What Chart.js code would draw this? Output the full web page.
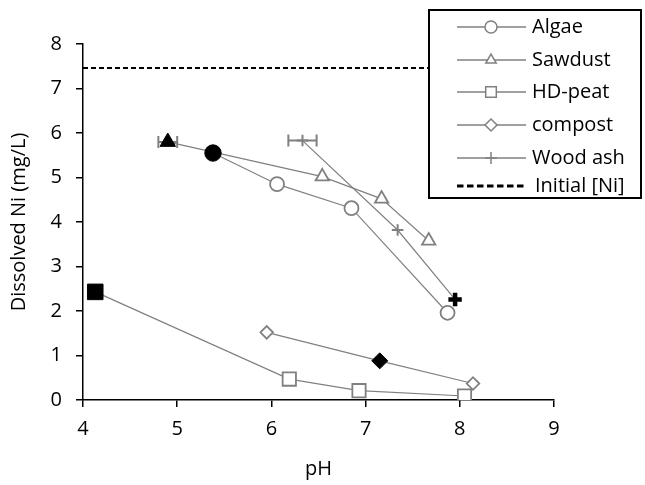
<html>
    <head>
        <title>Dissolved Ni vs pH</title>
        <style>
            body { margin: 0; background: #fff; }
            #wrap { position: relative; width: 645px; height: 485px; }
        </style>
    </head>
    <body>
        <div id="wrap"><canvas id="chart" width="645" height="485"></canvas></div>
        <script src="https://cdn.jsdelivr.net/npm/chart.js"></script>
        <script>
            // values
            var algaeX = [5.38, 6.06, 6.85, 7.87];
            var algaeY = [5.55, 4.85, 4.31, 1.96];
            var sawdustX = [4.90, 6.54, 7.17, 7.67];
            var sawdustY = [5.80, 5.02, 4.52, 3.58];
            var sawdustXErr = [0.10, 0, 0, 0];
            var peatX = [4.13, 6.19, 6.93, 8.05];
            var peatY = [2.43, 0.47, 0.21, 0.09];
            var compostX = [5.95, 7.15, 8.14];
            var compostY = [1.52, 0.88, 0.37];
            var ashX = [6.33, 7.34, 7.95];
            var ashY = [5.83, 3.82, 2.26];
            var ashXErr = [0.15, 0, 0];
            var initialNi = 7.46;
            var xRange = [4, 9];
            var yRange = [0, 8];
            // which point of each series is drawn solid black
            var filledAlgae = 0, filledSawdust = 0, filledPeat = 0, filledCompost = 1, filledAsh = 2;

            var GREY = '#808080';
            var FONT = '"Open Sans", sans-serif';

            function pts(xs, ys) {
                return xs.map(function (x, i) { return { x: x, y: ys[i] }; });
            }

            function series(label, xs, ys, filled, style, r, rFilled, bw, bwFilled, xErr) {
                return {
                    label: label,
                    data: pts(xs, ys),
                    xErr: xErr || null,
                    showLine: true,
                    borderColor: GREY,
                    borderWidth: 1.2,
                    pointStyle: style,
                    pointRadius: xs.map(function (v, i) { return i === filled ? rFilled : r; }),
                    pointHoverRadius: xs.map(function (v, i) { return i === filled ? rFilled : r; }),
                    pointBorderWidth: xs.map(function (v, i) { return i === filled ? bwFilled : bw; }),
                    pointBackgroundColor: xs.map(function (v, i) { return i === filled ? '#000' : (style === 'cross' ? GREY : '#fff'); }),
                    pointBorderColor: xs.map(function (v, i) { return i === filled ? '#000' : GREY; })
                };
            }

            var datasets = [
                series('Algae', algaeX, algaeY, filledAlgae, 'circle', 7, 8.2, 1.8, 1, null),
                series('Sawdust', sawdustX, sawdustY, filledSawdust, 'triangle', 7.7, 8.9, 1.8, 1, sawdustXErr),
                series('HD-peat', peatX, peatY, filledPeat, 'rect', 9.4, 11, 1.8, 1, null),
                series('compost', compostX, compostY, filledCompost, 'rectRot', 6.3, 8, 1.8, 1, null),
                series('Wood ash', ashX, ashY, filledAsh, 'cross', 5.8, 6.7, 2, 4.5, ashXErr),
                {
                    label: 'Initial [Ni]',
                    data: [{ x: xRange[0], y: initialNi }, { x: xRange[1], y: initialNi }],
                    showLine: true,
                    borderColor: '#000',
                    borderWidth: 2,
                    borderDash: [5, 3],
                    pointRadius: 0
                }
            ];
            // draw order: dashed line underneath
            datasets[5].order = 10;

            var errorBars = {
                id: 'errorBars',
                beforeDatasetsDraw: function (chart) {
                    var ctx = chart.ctx, xs = chart.scales.x, ys = chart.scales.y;
                    ctx.save();
                    ctx.strokeStyle = GREY;
                    ctx.lineWidth = 2;
                    chart.data.datasets.forEach(function (ds) {
                        if (!ds.xErr) return;
                        ds.data.forEach(function (p, i) {
                            var e = ds.xErr[i];
                            if (!e) return;
                            var x0 = xs.getPixelForValue(p.x - e), x1 = xs.getPixelForValue(p.x + e);
                            var y = ys.getPixelForValue(p.y);
                            ctx.beginPath();
                            ctx.moveTo(x0, y); ctx.lineTo(x1, y);
                            ctx.moveTo(x0, y - 6); ctx.lineTo(x0, y + 6);
                            ctx.moveTo(x1, y - 6); ctx.lineTo(x1, y + 6);
                            ctx.stroke();
                        });
                    });
                    ctx.restore();
                }
            };

            var boxLegend = {
                id: 'boxLegend',
                afterDraw: function (chart) {
                    var ctx = chart.ctx;
                    var rows = [27, 60, 92, 125, 158, 186];
                    ctx.save();
                    ctx.fillStyle = '#fff';
                    ctx.fillRect(429, 10, 212, 188);
                    ctx.strokeStyle = '#000';
                    ctx.lineWidth = 2;
                    ctx.strokeRect(429, 10, 212, 188);
                    chart.data.datasets.forEach(function (ds, i) {
                        var y = rows[i];
                        ctx.save();
                        ctx.beginPath();
                        ctx.strokeStyle = ds.borderColor;
                        ctx.lineWidth = ds.borderDash ? 2.8 : 1.5;
                        ctx.setLineDash(ds.borderDash ? [6.5, 3.5] : []);
                        ctx.moveTo(457, y); ctx.lineTo(526, y);
                        ctx.stroke();
                        ctx.restore();
                        if (ds.pointStyle) {
                            ctx.save();
                            ctx.strokeStyle = GREY;
                            ctx.fillStyle = '#fff';
                            ctx.lineWidth = 1.5;
                            Chart.helpers.drawPoint(ctx, { pointStyle: ds.pointStyle, radius: ds.pointStyle === 'rect' ? 7.5 : 6, rotation: 0, borderWidth: 1.5 }, 491, y);
                            ctx.restore();
                        }
                        ctx.fillStyle = '#000';
                        ctx.font = '20px ' + FONT;
                        ctx.textBaseline = 'middle';
                        ctx.fillText(ds.label, ds.pointStyle ? 532 : 535, y);
                    });
                    ctx.restore();
                }
            };

            var ctx = document.getElementById('chart').getContext('2d');
            var chart = new Chart(ctx, {
                type: 'scatter',
                data: { datasets: datasets },
                plugins: [errorBars, boxLegend],
                options: {
                    responsive: false,
                    animation: false,
                    layout: { padding: { top: 44, right: 91, left: 0, bottom: 0 } },
                    plugins: { legend: { display: false }, tooltip: { enabled: false } },
                    scales: {
                        x: {
                            type: 'linear', min: xRange[0], max: xRange[1],
                            afterFit: function (s) { s.height = 85; },
                            ticks: { stepSize: 1, color: '#000', padding: 10, font: { family: FONT, size: 20 } },
                            grid: { drawOnChartArea: false, color: '#000', lineWidth: 1.5, tickLength: 7 },
                            border: { color: '#000', width: 1.5 },
                            title: { display: true, text: 'pH', color: '#000', font: { family: FONT, size: 20 }, padding: { top: 0, bottom: 4 } }
                        },
                        y: {
                            type: 'linear', min: yRange[0], max: yRange[1],
                            afterFit: function (s) { s.width = 83; },
                            ticks: { stepSize: 1, color: '#000', padding: 14, font: { family: FONT, size: 20 } },
                            grid: { drawOnChartArea: false, color: '#000', lineWidth: 1.5, tickLength: 7 },
                            border: { color: '#000', width: 1.5 },
                            title: { display: true, text: 'Dissolved Ni (mg/L)', color: '#000', font: { family: FONT, size: 20 }, padding: { top: 7, bottom: 0 } }
                        }
                    }
                }
            });
        </script>
    </body>
</html>
